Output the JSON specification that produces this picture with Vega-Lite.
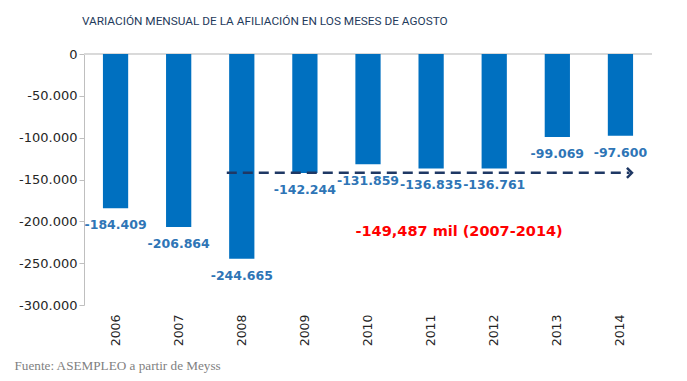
{
  "$schema": "https://vega.github.io/schema/vega-lite/v6.json",
  "width": 568,
  "height": 251,
  "autosize": {"type": "none"},
  "padding": {"left": 84, "top": 54, "right": 35, "bottom": 76},
  "background": "white",
  "config": {
    "locale": {"number": {"decimal": ",", "thousands": ".", "grouping": [3], "currency": ["", " €"], "minus": "-"}},
    "view": {"stroke": null}
  },
  "title": {
    "text": "VARIACIÓN MENSUAL DE LA AFILIACIÓN EN LOS MESES DE AGOSTO",
    "anchor": "start",
    "frame": "group",
    "dx": -2,
    "offset": 20,
    "font": "Roboto",
    "fontSize": 11.8,
    "fontWeight": "normal",
    "color": "#1F3B5C"
  },
  "data": {
    "values": [
      {"year": "2006", "value": -184409},
      {"year": "2007", "value": -206864},
      {"year": "2008", "value": -244665},
      {"year": "2009", "value": -142244},
      {"year": "2010", "value": -131859},
      {"year": "2011", "value": -136835},
      {"year": "2012", "value": -136761},
      {"year": "2013", "value": -99069},
      {"year": "2014", "value": -97600}
    ]
  },
  "layer": [
    {
      "mark": {"type": "rule", "color": "#D9D9D9", "strokeWidth": 1},
      "encoding": {"y": {"datum": 0, "type": "quantitative"}}
    },
    {
      "mark": {"type": "bar", "color": "#0070C0"},
      "encoding": {
        "x": {
          "field": "year",
          "type": "nominal",
          "scale": {"paddingInner": 0.6, "paddingOuter": 0.3},
          "axis": {
            "orient": "bottom",
            "title": "Fuente: ASEMPLEO a partir de Meyss",
            "titleFont": "Liberation Serif",
            "titleFontSize": 13.2,
            "titleFontWeight": "normal",
            "titleColor": "#7F7F7F",
            "titleAnchor": "start",
            "titleAlign": "left",
            "titleX": -70,
            "titleY": 60,
            "titleBaseline": "middle",
            "labelAngle": -90,
            "labelFont": "DejaVu Sans",
            "labelFontSize": 12.5,
            "labelColor": "#262626",
            "labelPadding": 9,
            "domain": false,
            "ticks": false,
            "grid": false
          }
        },
        "y": {
          "field": "value",
          "type": "quantitative",
          "scale": {"domain": [-300000, 0], "nice": false},
          "axis": {
            "title": null,
            "values": [0, -50000, -100000, -150000, -200000, -250000, -300000],
            "format": ",d",
            "labelFont": "DejaVu Sans",
            "labelFontSize": 13,
            "labelColor": "#262626",
            "labelPadding": 2,
            "tickSize": 5,
            "tickColor": "#BFBFBF",
            "domainColor": "#BFBFBF",
            "grid": false
          }
        }
      }
    },
    {
      "mark": {"type": "text", "font": "DejaVu Sans", "fontWeight": "bold", "fontSize": 12.5, "color": "#2E75B6", "baseline": "middle", "align": "center", "dy": 17},
      "encoding": {
        "x": {"field": "year", "type": "nominal"},
        "y": {"field": "value", "type": "quantitative"},
        "text": {"field": "value", "type": "quantitative", "format": ",d"}
      }
    },
    {
      "data": {"values": [{"year": "2008", "to": "2014", "level": -142000}]},
      "mark": {"type": "rule", "color": "#1F3864", "strokeWidth": 2.5, "strokeDash": [10, 6], "xOffset": -15, "x2Offset": 9},
      "encoding": {
        "x": {"field": "year", "type": "nominal"},
        "x2": {"field": "to"},
        "y": {"field": "level", "type": "quantitative"}
      }
    },
    {
      "data": {"values": [{"year": "2014", "level": -142000}]},
      "mark": {"type": "point", "shape": "M-1,-1L0,0L-1,1", "size": 100, "filled": false, "stroke": "#1F3864", "strokeWidth": 2.5, "opacity": 1, "xOffset": 11.5},
      "encoding": {
        "x": {"field": "year", "type": "nominal"},
        "y": {"field": "level", "type": "quantitative"}
      }
    },
    {
      "data": {"values": [{"year": "2011", "level": -212400, "note": "-149,487 mil (2007-2014)"}]},
      "mark": {"type": "text", "font": "DejaVu Sans", "fontWeight": "bold", "fontSize": 14.5, "color": "#FF0000", "baseline": "middle", "align": "center", "xOffset": 28},
      "encoding": {
        "x": {"field": "year", "type": "nominal"},
        "y": {"field": "level", "type": "quantitative"},
        "text": {"field": "note"}
      }
    }
  ]
}
